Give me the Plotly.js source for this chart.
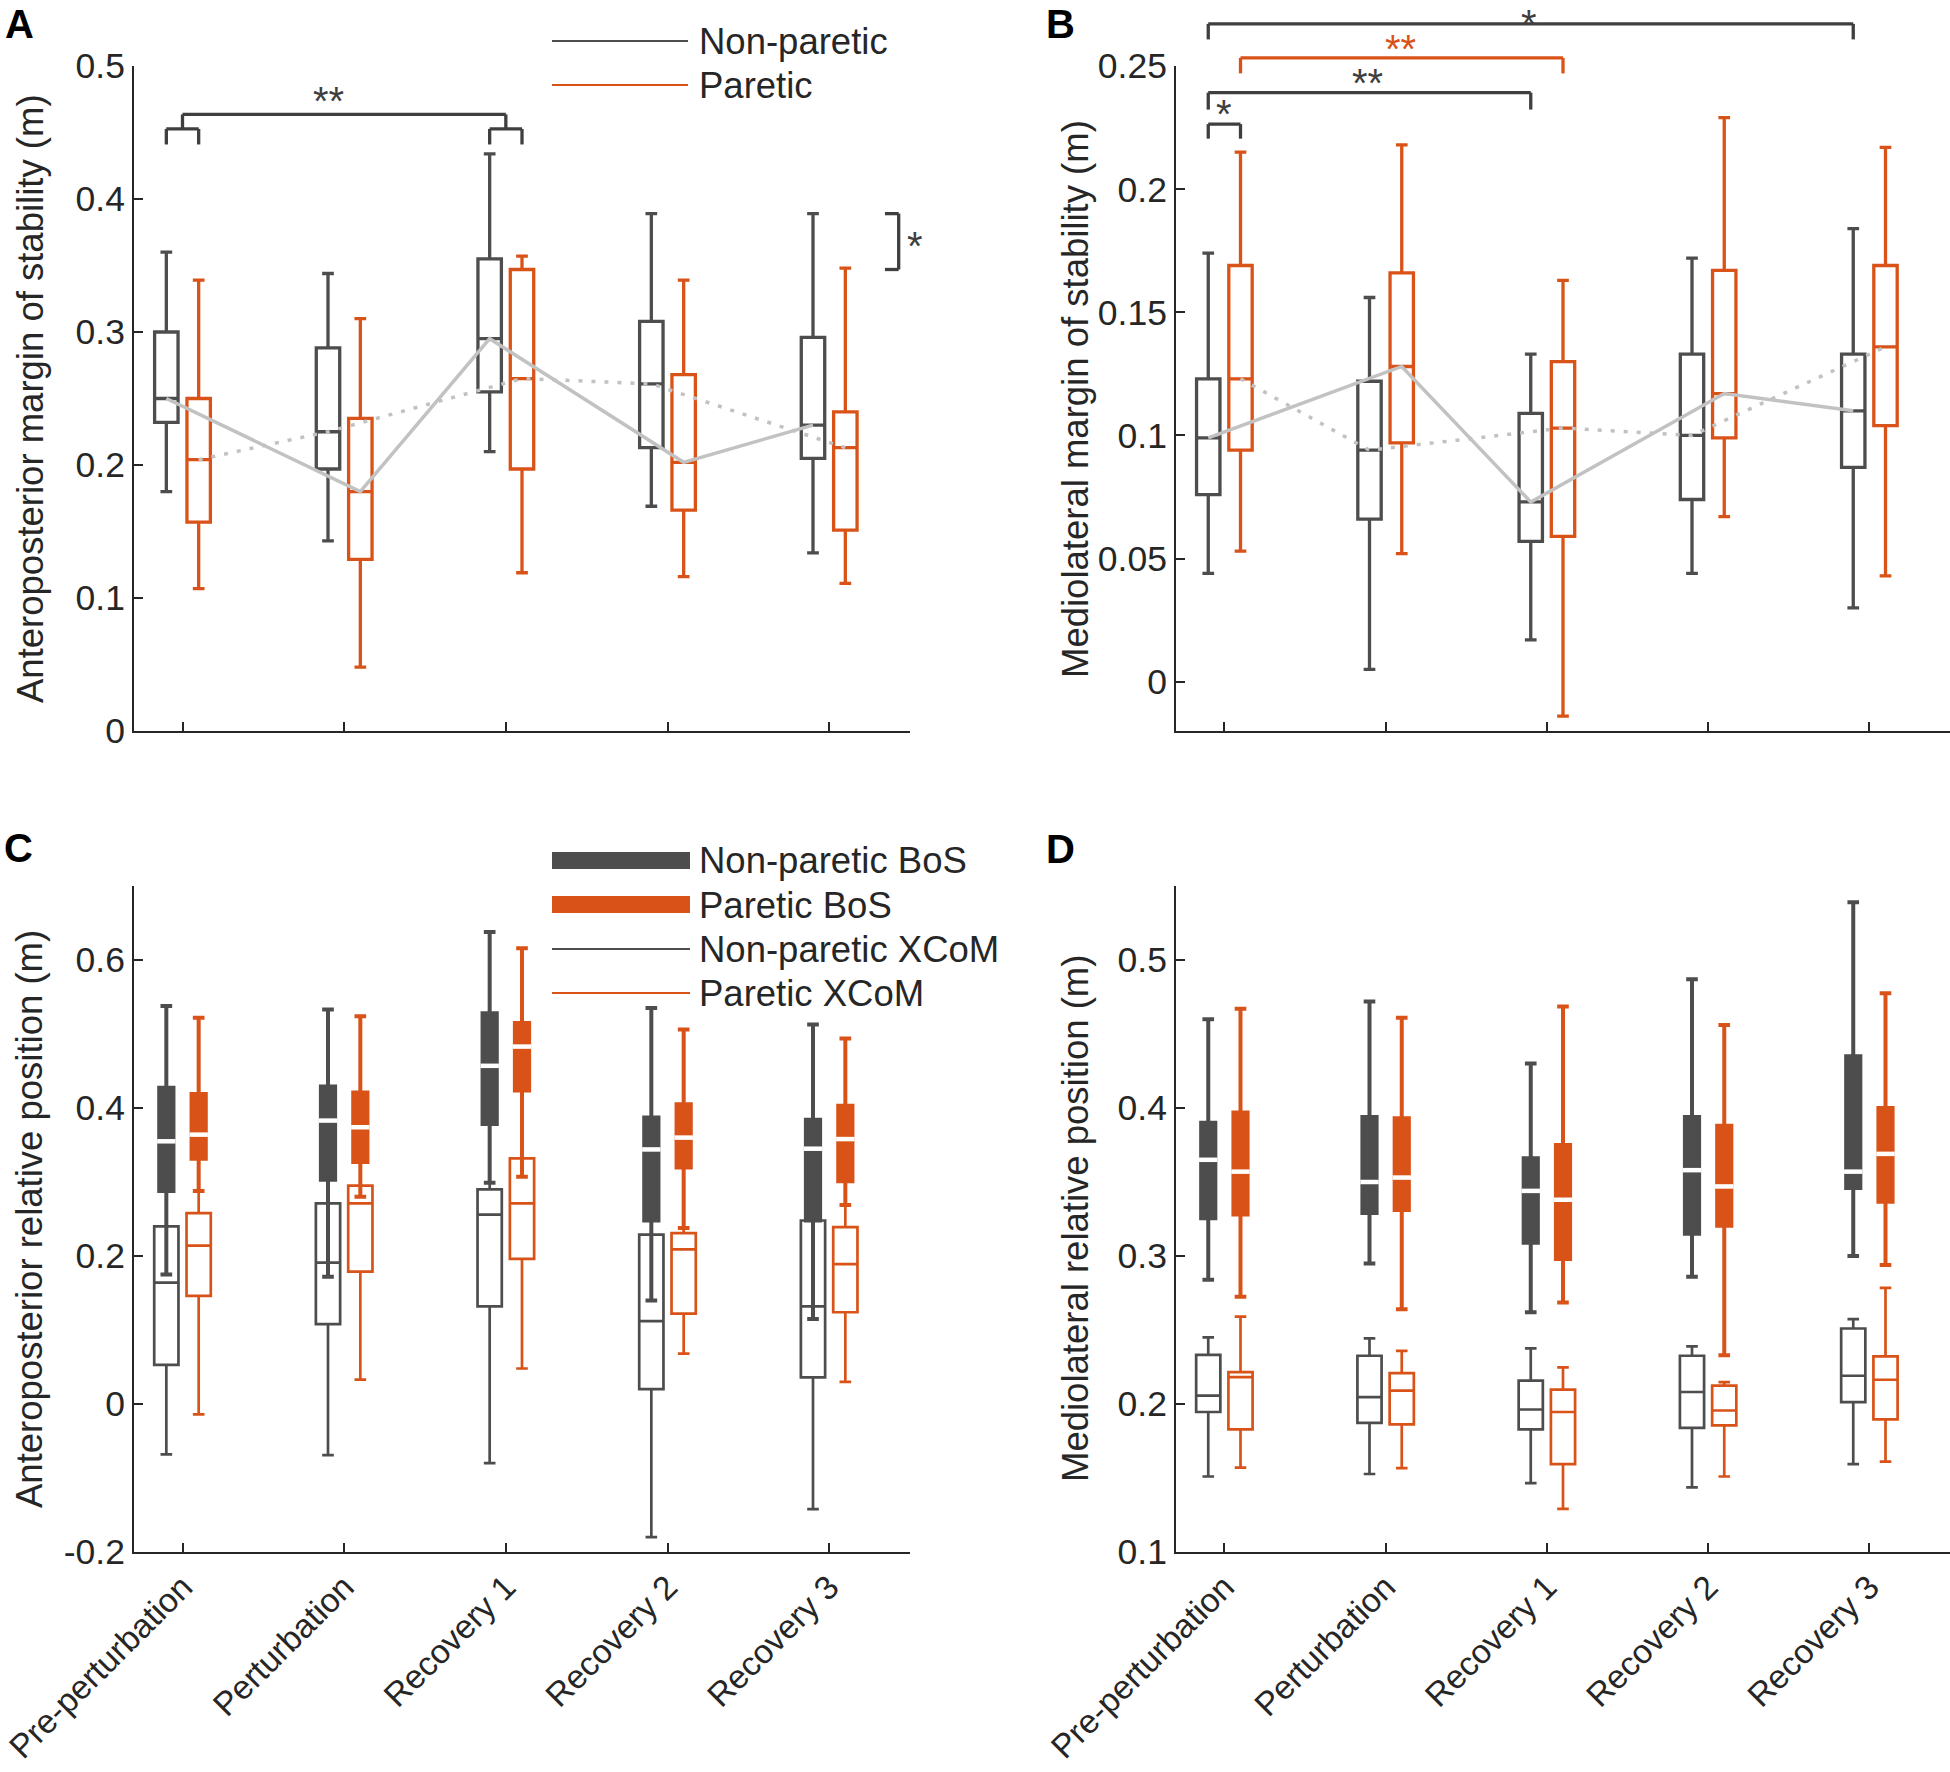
<!DOCTYPE html>
<html><head><meta charset="utf-8">
<script src="https://cdn.plot.ly/plotly-3.0.1.min.js"></script>
<style>html,body{margin:0;padding:0;background:#fff}#chart{width:1950px;height:1772px}</style>
</head><body><div id="chart"></div>
<script>
// ---------------- DATA ----------------
const categories = ['Pre-perturbation', 'Perturbation', 'Recovery 1', 'Recovery 2', 'Recovery 3'];
// each entry: [lower whisker, Q1, median, Q3, upper whisker]
const apMosNonParetic = [
  [0.180, 0.232, 0.250, 0.300, 0.360],
  [0.143, 0.197, 0.225, 0.288, 0.344],
  [0.210, 0.255, 0.295, 0.355, 0.434],
  [0.169, 0.213, 0.261, 0.308, 0.389],
  [0.134, 0.205, 0.230, 0.296, 0.389]];
const apMosParetic = [
  [0.107, 0.157, 0.204, 0.250, 0.339],
  [0.048, 0.129, 0.180, 0.235, 0.310],
  [0.119, 0.197, 0.265, 0.347, 0.357],
  [0.116, 0.166, 0.202, 0.268, 0.339],
  [0.111, 0.151, 0.213, 0.240, 0.348]];
const mlMosNonParetic = [
  [0.044, 0.076, 0.099, 0.123, 0.174],
  [0.005, 0.066, 0.094, 0.122, 0.156],
  [0.017, 0.057, 0.073, 0.109, 0.133],
  [0.044, 0.074, 0.100, 0.133, 0.172],
  [0.030, 0.087, 0.110, 0.133, 0.184]];
const mlMosParetic = [
  [0.053, 0.094, 0.123, 0.169, 0.215],
  [0.052, 0.097, 0.128, 0.166, 0.218],
  [-0.014, 0.059, 0.103, 0.130, 0.163],
  [0.067, 0.099, 0.117, 0.167, 0.229],
  [0.043, 0.104, 0.136, 0.169, 0.217]];
const apBosNonParetic = [
  [0.175, 0.288, 0.355, 0.4275, 0.538],
  [0.172, 0.303, 0.383, 0.429, 0.533],
  [0.299, 0.3785, 0.457, 0.528, 0.638],
  [0.140, 0.248, 0.344, 0.387, 0.535],
  [0.115, 0.248, 0.345, 0.384, 0.513]];
const apBosParetic = [
  [0.288, 0.3315, 0.364, 0.419, 0.522],
  [0.280, 0.327, 0.374, 0.421, 0.524],
  [0.307, 0.4235, 0.483, 0.515, 0.616],
  [0.238, 0.3195, 0.360, 0.405, 0.506],
  [0.269, 0.301, 0.358, 0.403, 0.494]];
const apXcomNonParetic = [
  [-0.068, 0.053, 0.164, 0.240, 0.33],
  [-0.069, 0.108, 0.191, 0.271, 0.35],
  [-0.080, 0.132, 0.256, 0.290, 0.42],
  [-0.180, 0.020, 0.112, 0.229, 0.30],
  [-0.142, 0.036, 0.132, 0.248, 0.30]];
const apXcomParetic = [
  [-0.014, 0.146, 0.214, 0.258, 0.37],
  [0.033, 0.179, 0.271, 0.295, 0.37],
  [0.048, 0.196, 0.271, 0.332, 0.46],
  [0.068, 0.122, 0.209, 0.231, 0.36],
  [0.030, 0.124, 0.189, 0.239, 0.35]];
const mlBosNonParetic = [
  [0.284, 0.3255, 0.365, 0.390, 0.460],
  [0.295, 0.329, 0.350, 0.394, 0.472],
  [0.262, 0.309, 0.344, 0.366, 0.430],
  [0.286, 0.315, 0.358, 0.394, 0.487],
  [0.300, 0.346, 0.357, 0.435, 0.539]];
const mlBosParetic = [
  [0.2725, 0.328, 0.357, 0.397, 0.467],
  [0.264, 0.331, 0.353, 0.393, 0.461],
  [0.2685, 0.298, 0.338, 0.375, 0.4685],
  [0.233, 0.3205, 0.347, 0.388, 0.456],
  [0.294, 0.3366, 0.369, 0.400, 0.4775]];
const mlXcomNonParetic = [
  [0.151, 0.1946, 0.2057, 0.2332, 0.245],
  [0.1527, 0.1872, 0.2047, 0.2326, 0.2443],
  [0.1466, 0.1829, 0.1963, 0.2158, 0.2376],
  [0.1436, 0.1839, 0.2081, 0.2326, 0.2389],
  [0.1594, 0.2013, 0.2191, 0.251, 0.2574]];
const mlXcomParetic = [
  [0.157, 0.1829, 0.2181, 0.2215, 0.259],
  [0.1567, 0.1862, 0.2091, 0.2208, 0.2359],
  [0.1292, 0.1594, 0.1946, 0.2097, 0.2248],
  [0.151, 0.1856, 0.1956, 0.2124, 0.2148],
  [0.1611, 0.1896, 0.2164, 0.2322, 0.2785]];

const yTicksA = [0, 0.1, 0.2, 0.3, 0.4, 0.5];
const yTickTextA = ['0', '0.1', '0.2', '0.3', '0.4', '0.5'];
const yTicksB = [0, 0.05, 0.1, 0.15, 0.2, 0.25];
const yTickTextB = ['0', '0.05', '0.1', '0.15', '0.2', '0.25'];
const yTicksC = [-0.2, 0, 0.2, 0.4, 0.6];
const yTickTextC = ['-0.2', '0', '0.2', '0.4', '0.6'];
const yTicksD = [0.1, 0.2, 0.3, 0.4, 0.5];
const yTickTextD = ['0.1', '0.2', '0.3', '0.4', '0.5'];

// ---------------- STYLE ----------------
const W = 1950, H = 1772;
const GRAY = '#4d4d4d', ORANGE = '#D95319', LIGHT = '#c2c2c2', AX = '#262626', SIG = '#3f3f3f';
const FONT = 'Arial, "Liberation Sans", Helvetica, sans-serif';
const OFF = 0.1;
const rngX = [0.7, 5.5];
const rA = [0, 0.5], rB = [-0.02, 0.25], rC = [-0.2, 0.7], rD = [0.1, 0.55];
const pos = (i, side) => i + 1 + side * OFF;

function boxTrace(series, side, xa, ya, o) {
  return {
    type: 'box', xaxis: xa, yaxis: ya,
    x: series.map((s, i) => pos(i, side)),
    lowerfence: series.map(s => s[0]), q1: series.map(s => s[1]),
    median: series.map(s => s[2]), q3: series.map(s => s[3]),
    upperfence: series.map(s => s[4]),
    width: o.width, whiskerwidth: o.ww,
    line: {color: o.color, width: o.lw},
    fillcolor: o.fill, boxpoints: false, showlegend: false, hoverinfo: 'skip'
  };
}
function medianTrace(series, side, xa, ya, hw) {
  const xs = [], ys = [];
  series.forEach((s, i) => { const p = pos(i, side); xs.push(p - hw, p + hw, null); ys.push(s[2], s[2], null); });
  return {type: 'scatter', mode: 'lines', x: xs, y: ys, xaxis: xa, yaxis: ya,
    line: {color: '#ffffff', width: 4.5}, showlegend: false, hoverinfo: 'skip'};
}
function zigzag(npS, pS, startNp, xa, ya, dash) {
  const xs = [], ys = [];
  categories.forEach((c, i) => {
    const useNp = ((i % 2) === 0) === startNp;
    xs.push(pos(i, useNp ? -1 : 1));
    ys.push((useNp ? npS : pS)[i][2]);
  });
  return {type: 'scatter', mode: 'lines', x: xs, y: ys, xaxis: xa, yaxis: ya,
    line: {color: LIGHT, width: 3.5, dash: dash}, showlegend: false, hoverinfo: 'skip'};
}

const openBox = (c) => ({width: 0.145, ww: 0.5, color: c, lw: 3.3, fill: 'rgba(255,255,255,0)'});
const xcomBox = (c) => ({width: 0.15, ww: 0.48, color: c, lw: 2.7, fill: 'rgba(255,255,255,0)'});
const bosBox = (c) => ({width: 0.088, ww: 0.82, color: c, lw: 4, fill: c});

const data = [
  // A
  zigzag(apMosNonParetic, apMosParetic, true, 'x', 'y', 'solid'),
  zigzag(apMosNonParetic, apMosParetic, false, 'x', 'y', '4px,9px'),
  boxTrace(apMosNonParetic, -1, 'x', 'y', openBox(GRAY)),
  boxTrace(apMosParetic, 1, 'x', 'y', openBox(ORANGE)),
  // B
  zigzag(mlMosNonParetic, mlMosParetic, true, 'x2', 'y2', 'solid'),
  zigzag(mlMosNonParetic, mlMosParetic, false, 'x2', 'y2', '4px,9px'),
  boxTrace(mlMosNonParetic, -1, 'x2', 'y2', openBox(GRAY)),
  boxTrace(mlMosParetic, 1, 'x2', 'y2', openBox(ORANGE)),
  // C
  boxTrace(apXcomNonParetic, -1, 'x3', 'y3', xcomBox(GRAY)),
  boxTrace(apXcomParetic, 1, 'x3', 'y3', xcomBox(ORANGE)),
  boxTrace(apBosNonParetic, -1, 'x3', 'y3', bosBox(GRAY)),
  boxTrace(apBosParetic, 1, 'x3', 'y3', bosBox(ORANGE)),
  medianTrace(apBosNonParetic, -1, 'x3', 'y3', 0.057),
  medianTrace(apBosParetic, 1, 'x3', 'y3', 0.057),
  // D
  boxTrace(mlXcomNonParetic, -1, 'x4', 'y4', xcomBox(GRAY)),
  boxTrace(mlXcomParetic, 1, 'x4', 'y4', xcomBox(ORANGE)),
  boxTrace(mlBosNonParetic, -1, 'x4', 'y4', bosBox(GRAY)),
  boxTrace(mlBosParetic, 1, 'x4', 'y4', bosBox(ORANGE)),
  medianTrace(mlBosNonParetic, -1, 'x4', 'y4', 0.057),
  medianTrace(mlBosParetic, 1, 'x4', 'y4', 0.057)
];

// ---------------- LAYOUT ----------------
const domL = [134 / W, 910 / W], domR = [1176 / W, 1];
const domT = [1 - 731 / H, 1 - 66 / H], domBt = [1 - 1552 / H, 1 - 886 / H];
const tickFont = {family: FONT, size: 35.5, color: AX};
const xTickFont = {family: FONT, size: 33.5, color: AX};

function xAxis(domain, anchor, labels) {
  return {domain, anchor, range: rngX, tickmode: 'array', tickvals: [1, 2, 3, 4, 5], ticktext: categories,
    showticklabels: labels, tickangle: -45, ticklabeloverflow: 'allow', ticks: 'inside', ticklen: 9, tickwidth: 2, tickcolor: AX,
    showline: true, linecolor: AX, linewidth: 2, showgrid: false, zeroline: false, tickfont: xTickFont, fixedrange: true};
}
function yAxis(domain, anchor, range, vals, text) {
  return {domain, anchor, range, tickmode: 'array', tickvals: vals, ticktext: text,
    ticks: 'inside', ticklen: 9, tickwidth: 2, tickcolor: AX, showline: true, linecolor: AX, linewidth: 2,
    showgrid: false, zeroline: false, tickfont: tickFont, fixedrange: true};
}

const dX = v => (v - rngX[0]) / (rngX[1] - rngX[0]);
const dY = (v, r) => (v - r[0]) / (r[1] - r[0]);
function seg(ax, ay, r, x0, y0, x1, y1, color) {
  return {type: 'line', xref: ax + ' domain', yref: ay + ' domain', x0: dX(x0), x1: dX(x1),
    y0: dY(y0, r), y1: dY(y1, r), line: {color: color, width: 3.3}};
}
function bracket(ax, ay, r, x0, x1, yTop, yBot, color) {
  return [seg(ax, ay, r, x0, yBot, x0, yTop, color), seg(ax, ay, r, x0, yTop, x1, yTop, color), seg(ax, ay, r, x1, yTop, x1, yBot, color)];
}
function star(ax, ay, r, hPx, x, yv, text, color) {
  return {xref: ax + ' domain', yref: ay + ' domain', x: dX(x), y: dY(yv, r) - 4 / hPx,
    text: text, showarrow: false, xanchor: 'center', yanchor: 'middle', font: {family: FONT, size: 40, color: color}};
}
const pxX = px => px / W, pxY = py => 1 - py / H;
function ptext(px, py, text, o) {
  o = o || {};
  return {xref: 'paper', yref: 'paper', x: pxX(px), y: pxY(py), text: text, showarrow: false,
    xanchor: o.xanchor || 'left', yanchor: 'middle', textangle: o.angle || 0,
    font: {family: FONT, size: o.size || 36.5, color: o.color || AX}};
}
function pline(x0, x1, y, color, w) {
  return {type: 'line', xref: 'paper', yref: 'paper', x0: pxX(x0), x1: pxX(x1), y0: pxY(y), y1: pxY(y), line: {color, width: w}};
}
function prect(x0, x1, y0, y1, color) {
  return {type: 'rect', xref: 'paper', yref: 'paper', x0: pxX(x0), x1: pxX(x1), y0: pxY(y0), y1: pxY(y1), fillcolor: color, line: {width: 0}};
}

const shapes = [].concat(
  // A brackets
  bracket('x', 'y', rA, 0.9, 1.1, 0.4527, 0.441, SIG),
  bracket('x', 'y', rA, 2.9, 3.1, 0.4527, 0.441, SIG),
  bracket('x', 'y', rA, 1.0, 3.0, 0.4636, 0.4527, SIG),
  [seg('x', 'y', rA, 5.345, 0.389, 5.43, 0.389, SIG), seg('x', 'y', rA, 5.43, 0.389, 5.43, 0.347, SIG), seg('x', 'y', rA, 5.43, 0.347, 5.345, 0.347, SIG)],
  // B brackets
  bracket('x2', 'y2', rB, 0.9, 4.9, 0.2671, 0.2608, SIG),
  bracket('x2', 'y2', rB, 1.1, 3.1, 0.2533, 0.2470, ORANGE),
  bracket('x2', 'y2', rB, 0.9, 2.9, 0.2392, 0.2323, SIG),
  bracket('x2', 'y2', rB, 0.9, 1.1, 0.2264, 0.2205, SIG),
  // legends
  [pline(552, 688, 41, GRAY, 2), pline(552, 688, 85, ORANGE, 2),
   prect(552, 690, 852, 869, GRAY), prect(552, 690, 896, 913, ORANGE),
   pline(552, 690, 949, GRAY, 2), pline(552, 690, 993, ORANGE, 2)]
);

const topStar = {xref: 'x2 domain', yref: 'paper', x: dX(2.89), y: 1, yanchor: 'top', xanchor: 'center',
  text: '*', showarrow: false, font: {family: FONT, size: 40, color: SIG}};

const annotations = [
  ptext(19, 24, '<b>A</b>', {xanchor: 'center', size: 40, color: '#000'}),
  ptext(1060, 24, '<b>B</b>', {xanchor: 'center', size: 40, color: '#000'}),
  ptext(18, 848, '<b>C</b>', {xanchor: 'center', size: 40, color: '#000'}),
  ptext(1060, 849, '<b>D</b>', {xanchor: 'center', size: 40, color: '#000'}),
  ptext(30, 399, 'Anteroposterior margin of stability (m)', {xanchor: 'center', angle: -90}),
  ptext(1075, 399, 'Mediolateral margin of stability (m)', {xanchor: 'center', angle: -90}),
  ptext(29, 1219, 'Anteroposterior relative position (m)', {xanchor: 'center', angle: -90}),
  ptext(1075, 1219, 'Mediolateral relative position (m)', {xanchor: 'center', angle: -90}),
  ptext(697, 41, 'Non-paretic'), ptext(697, 85, 'Paretic'),
  ptext(697, 861, 'Non-paretic BoS'), ptext(697, 905, 'Paretic BoS'),
  ptext(697, 949, 'Non-paretic XCoM'), ptext(697, 993, 'Paretic XCoM'),
  star('x', 'y', rA, 665, 1.9, 0.4767, '**', SIG),
  star('x', 'y', rA, 665, 5.53, 0.3677, '*', SIG),
  topStar,
  star('x2', 'y2', rB, 665, 2.09, 0.2587, '**', ORANGE),
  star('x2', 'y2', rB, 665, 1.89, 0.2447, '**', SIG),
  star('x2', 'y2', rB, 665, 1.0, 0.2321, '*', SIG)
];

const layout = {
  width: W, height: H, margin: {l: 0, r: 0, t: 0, b: 0},
  paper_bgcolor: '#ffffff', plot_bgcolor: '#ffffff', showlegend: false, boxmode: 'overlay',
  font: {family: FONT, color: AX},
  xaxis: xAxis(domL, 'y', false), yaxis: yAxis(domT, 'x', rA, yTicksA, yTickTextA),
  xaxis2: xAxis(domR, 'y2', false), yaxis2: yAxis(domT, 'x2', rB, yTicksB, yTickTextB),
  xaxis3: xAxis(domL, 'y3', true), yaxis3: yAxis(domBt, 'x3', rC, yTicksC, yTickTextC),
  xaxis4: xAxis(domR, 'y4', true), yaxis4: yAxis(domBt, 'x4', rD, yTicksD, yTickTextD),
  shapes: shapes, annotations: annotations
};

Plotly.newPlot('chart', data, layout, {displayModeBar: false, staticPlot: true});
</script></body></html>
